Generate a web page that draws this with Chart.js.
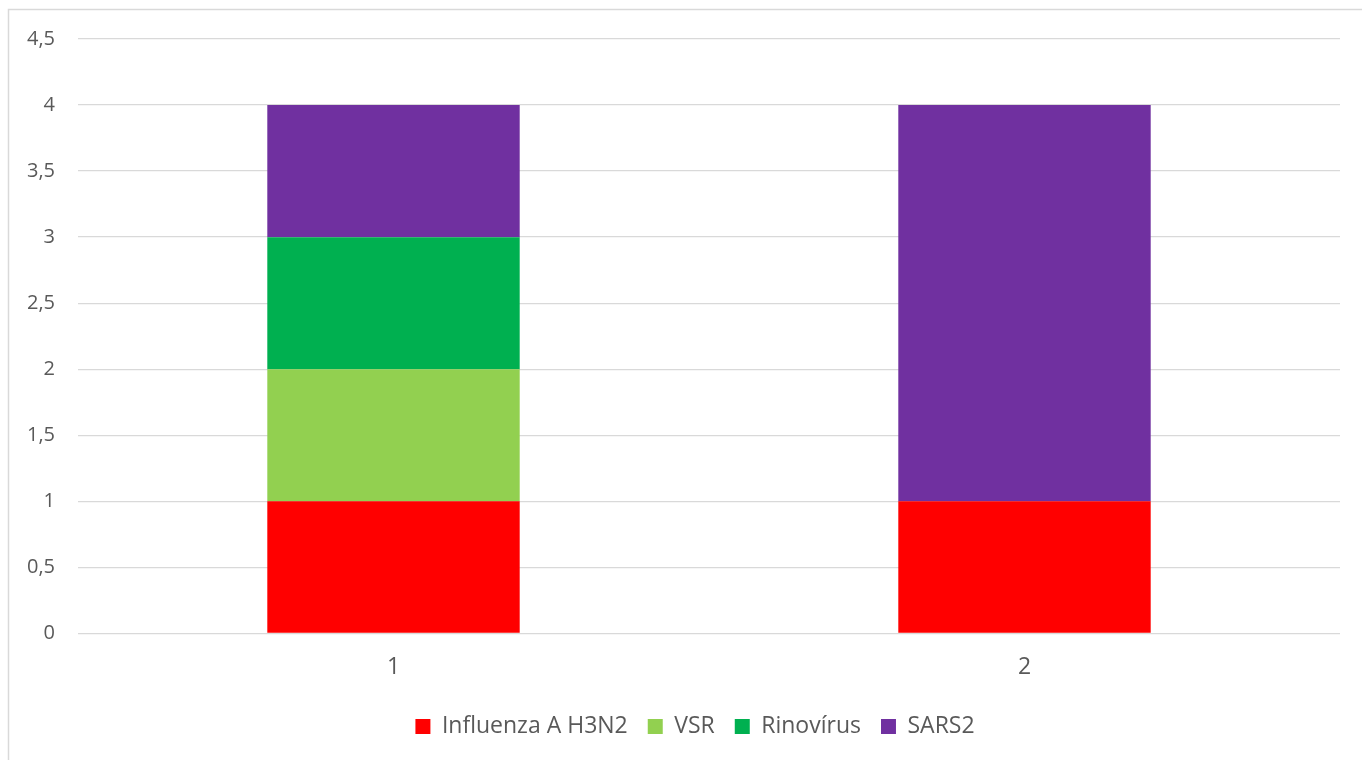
<!DOCTYPE html>
<html>
<head>
<meta charset="utf-8">
<script src="https://cdn.jsdelivr.net/npm/chart.js@4/dist/chart.umd.min.js"></script>
<style>
  html, body { margin: 0; padding: 0; background: #fff; }
  #wrap { position: relative; width: 1362px; height: 760px; }
</style>
</head>
<body>
<div id="wrap"><canvas id="chart" width="1362" height="760"></canvas></div>
<script>
// Categories and series values
const categories = ['1', '2'];
const influenzaA = [1, 1];
const vsr = [1, 0];
const rinovirus = [1, 0];
const sars2 = [1, 3];
const yTicks = [0, 0.5, 1, 1.5, 2, 2.5, 3, 3.5, 4, 4.5];

const textColor = '#595959';
const gridColor = '#d9d9d9';
const fontFamily = '"Open Sans", "Noto Sans", sans-serif';

// Light border around the chart like the Excel frame
const framePlugin = {
    id: 'frame',
    beforeDraw(chart) {
        const ctx = chart.ctx;
        ctx.save();
        ctx.fillStyle = '#fff';
        ctx.fillRect(0, 0, chart.width, chart.height);
        ctx.strokeStyle = gridColor;
        ctx.lineWidth = 1.5;
        ctx.strokeRect(8.5, 9.5, 1400, 800);
        ctx.restore();
    }
};

// Excel centres the legend a bit to the right of the canvas centre
const legendShift = {
    id: 'legendShift',
    afterLayout(chart) {
        if (chart.legend) chart.legend.left += 50;
    }
};

new Chart(document.getElementById('chart'), {
    type: 'bar',
    data: {
        labels: categories,
        datasets: [
            { label: 'Influenza A H3N2', data: influenzaA, backgroundColor: '#ff0000' },
            { label: 'VSR', data: vsr, backgroundColor: '#92d050' },
            { label: 'Rinovírus', data: rinovirus, backgroundColor: '#00b050' },
            { label: 'SARS2', data: sars2, backgroundColor: '#7030a0' }
        ]
    },
    options: {
        responsive: false,
        animation: false,
        devicePixelRatio: 1,
        layout: { padding: { top: 39, right: 22, bottom: 12, left: 0 } },
        datasets: {
            bar: { barPercentage: 0.4, categoryPercentage: 1, borderWidth: 0 }
        },
        scales: {
            x: {
                stacked: true,
                afterFit(scale) { scale.height -= 6; },
                grid: { display: false, drawTicks: false },
                border: { display: false },
                ticks: {
                    color: textColor,
                    font: { family: fontFamily, size: 23 },
                    padding: 20
                }
            },
            y: {
                stacked: true,
                min: 0,
                max: 4.5,
                afterFit(scale) { scale.width = 78; },
                afterBuildTicks(scale) {
                    scale.ticks = yTicks.map(v => ({ value: v }));
                },
                grid: { color: gridColor, lineWidth: 1.3, drawTicks: false },
                border: { display: false },
                ticks: {
                    color: textColor,
                    font: { family: fontFamily, size: 20 },
                    padding: 23,
                    callback: v => String(v).replace('.', ',')
                }
            }
        },
        plugins: {
            tooltip: { enabled: false },
            legend: {
                position: 'bottom',
                labels: {
                    color: textColor,
                    font: { family: fontFamily, size: 23 },
                    boxWidth: 15,
                    boxHeight: 15,
                    padding: 20
                }
            }
        }
    },
    plugins: [framePlugin, legendShift]
});
</script>
</body>
</html>
